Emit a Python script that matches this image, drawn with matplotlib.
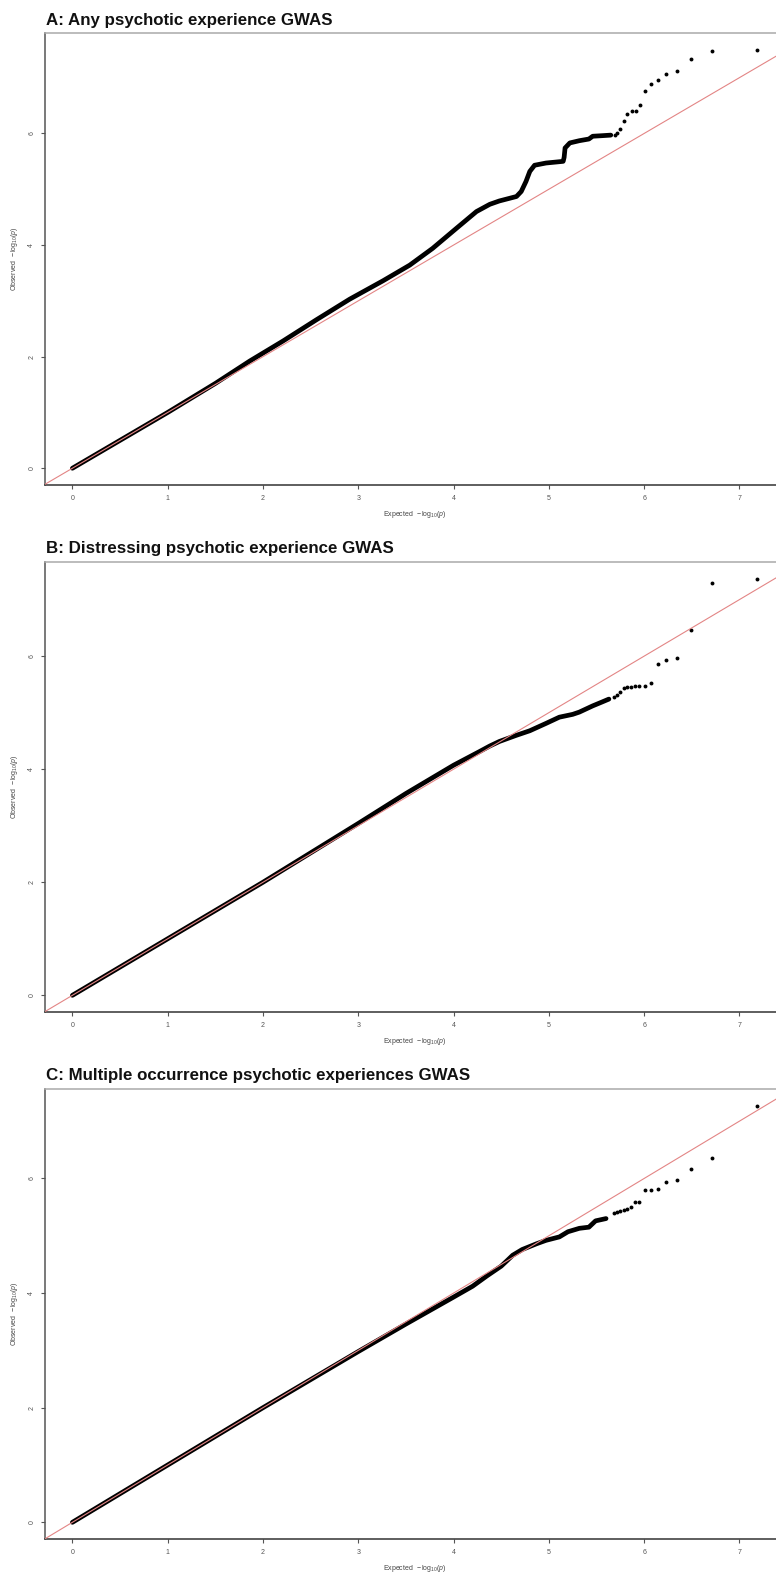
import matplotlib
matplotlib.use("Agg")
import matplotlib.pyplot as plt

plt.rcParams['font.family'] = ['Liberation Sans', 'DejaVu Sans']
plt.rcParams['mathtext.fontset'] = 'custom'
plt.rcParams['mathtext.rm'] = 'Liberation Sans'
plt.rcParams['mathtext.it'] = 'Liberation Sans:italic'

# QQ plot values: expected vs observed -log10(p)
# dense part of each curve
A_exp_bulk = [0, 0.5, 1.0, 1.5, 1.86, 2.21, 2.56, 2.91, 3.26, 3.54, 3.78, 4.03, 4.24, 4.38, 4.48,
              4.66, 4.71, 4.76, 4.80, 4.85, 4.97, 5.15, 5.16, 5.17, 5.22, 5.32, 5.42, 5.46, 5.56, 5.65]
A_obs_bulk = [0, 0.5, 1.0, 1.52, 1.92, 2.28, 2.66, 3.03, 3.36, 3.64, 3.94, 4.30, 4.60, 4.73, 4.79,
              4.87, 4.96, 5.14, 5.32, 5.43, 5.47, 5.50, 5.57, 5.74, 5.83, 5.87, 5.90, 5.95, 5.96, 5.97]
B_exp_bulk = [0, 1, 2, 2.5, 3.0, 3.5, 4.0, 4.27, 4.38, 4.48, 4.66, 4.80, 4.97, 5.11, 5.25, 5.32,
              5.46, 5.56, 5.63]
B_obs_bulk = [0, 1, 2.0, 2.52, 3.04, 3.57, 4.07, 4.31, 4.41, 4.49, 4.60, 4.68, 4.81, 4.92, 4.97, 5.01,
              5.12, 5.19, 5.24]
C_exp_bulk = [0, 1, 2, 2.5, 3.0, 3.5, 4.0, 4.2, 4.35, 4.5, 4.57, 4.62, 4.72, 4.87, 4.97, 5.11,
              5.20, 5.32, 5.42, 5.49, 5.60]
C_obs_bulk = [0, 1, 2.0, 2.49, 2.98, 3.46, 3.93, 4.12, 4.30, 4.47, 4.58, 4.66, 4.76, 4.86, 4.92, 4.98,
              5.07, 5.13, 5.15, 5.26, 5.30]

# top-ranked SNPs, drawn as single dots
A_exp_tail = [7.18, 6.71, 6.49, 6.34, 6.23, 6.15, 6.07, 6.01, 5.96, 5.91, 5.87, 5.82, 5.79, 5.75, 5.72, 5.69]
A_obs_tail = [7.50, 7.47, 7.34, 7.12, 7.07, 6.95, 6.89, 6.76, 6.51, 6.40, 6.40, 6.35, 6.22, 6.08, 6.00, 5.98]
B_exp_tail = [7.18, 6.71, 6.49, 6.34, 6.23, 6.15, 6.07, 6.01, 5.95, 5.90, 5.86, 5.82, 5.79, 5.75, 5.71, 5.68]
B_obs_tail = [7.37, 7.29, 6.47, 5.97, 5.93, 5.86, 5.52, 5.48, 5.48, 5.48, 5.46, 5.45, 5.44, 5.36, 5.31, 5.28]
C_exp_tail = [7.18, 6.71, 6.49, 6.34, 6.23, 6.15, 6.07, 6.01, 5.95, 5.90, 5.86, 5.82, 5.79, 5.75, 5.72, 5.68]
C_obs_tail = [7.27, 6.36, 6.16, 5.98, 5.94, 5.82, 5.80, 5.79, 5.59, 5.59, 5.50, 5.46, 5.45, 5.43, 5.42, 5.39]

titles = ["A: Any psychotic experience GWAS",
          "B: Distressing psychotic experience GWAS",
          "C: Multiple occurrence psychotic experiences GWAS"]
panels = [(A_exp_bulk, A_obs_bulk, A_exp_tail, A_obs_tail),
          (B_exp_bulk, B_obs_bulk, B_exp_tail, B_obs_tail),
          (C_exp_bulk, C_obs_bulk, C_exp_tail, C_obs_tail)]

W, H = 776, 1575
fig = plt.figure(figsize=(W / 100, H / 100), dpi=100)

# pixel boxes (top, bottom) of each panel and title baselines
boxes = [(33, 485), (562, 1012), (1089, 1539)]
title_y = [25, 553, 1080]
left_px = 45
px_per_x = 95.3

for (ebulk, obulk, etail, otail), (top, bot), ttl, ty in zip(panels, boxes, titles, title_y):
    xmax = max(etail)
    ymax = max(max(otail), max(obulk))
    xlo, xhi = -0.04 * xmax, xmax * 1.04
    ylo, yhi = -0.04 * ymax, ymax * 1.04
    width_px = (xhi - xlo) * px_per_x
    ax = fig.add_axes([left_px / W, (H - bot) / H, width_px / W, (bot - top) / H])
    ax.set_xlim(xlo, xhi)
    ax.set_ylim(ylo, yhi)

    ax.plot(ebulk, obulk, color='black', lw=3.4, solid_capstyle='round', solid_joinstyle='round', zorder=2)
    ax.plot(etail, otail, 'o', color='black', ms=2.8, mew=0, zorder=2)
    ax.plot([-1, 9], [-1, 9], color='#e38585', lw=0.8, zorder=3)

    ax.set_xticks(range(0, 8))
    ax.set_yticks([0, 2, 4, 6])
    ax.tick_params(axis='both', length=3, width=0.8, color='#555555', labelsize=5,
                   labelcolor='#555555', pad=4)
    for lab in ax.get_yticklabels():
        lab.set_rotation(90)
        lab.set_va('center')
    ax.set_xlabel(r'Expected  $-\,\mathrm{log}_{10}(\mathit{p})$', fontsize=5, color='#444444', labelpad=5)
    ax.set_ylabel(r'Observed  $-\,\mathrm{log}_{10}(\mathit{p})$', fontsize=5, color='#444444', labelpad=6)
    ax.spines['left'].set_color('#555555')
    ax.spines['bottom'].set_color('#333333')
    ax.spines['top'].set_color('#aaaaaa')
    ax.spines['right'].set_visible(False)
    for s in ('left', 'bottom', 'top'):
        ax.spines[s].set_linewidth(1.1)

    fig.text(46 / W, 1 - ty / H, ttl, fontsize=12.2, fontweight='bold', color='#111111',
             ha='left', va='baseline')

fig.savefig("out.png", dpi=100)
